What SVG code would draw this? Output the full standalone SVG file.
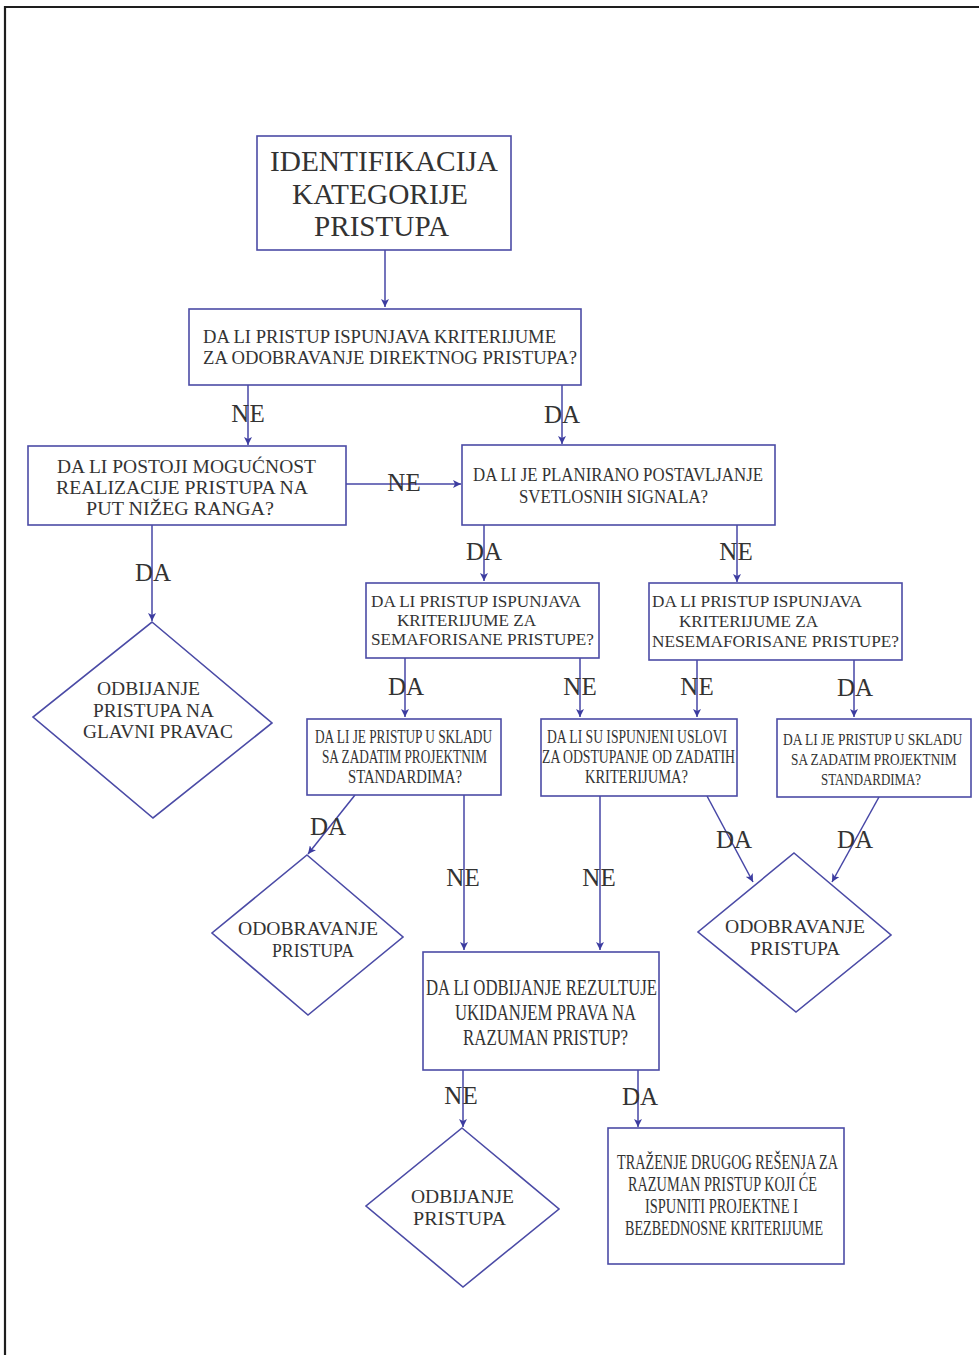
<svg xmlns="http://www.w3.org/2000/svg" width="979" height="1355" viewBox="0 0 979 1355">
  <style>
    .box { fill: #ffffff; stroke: #4b4ba6; stroke-width: 1.6; }
    .edge { fill: none; stroke: #4646a6; stroke-width: 1.5; }
    .t { font-family: "Liberation Serif", "Times New Roman", serif; fill: #333333; }
    .lbl { font-family: "Liberation Serif", "Times New Roman", serif; fill: #333333; font-size: 25px; text-anchor: middle; }
  </style>
  <defs>
    <marker id="arrow" markerWidth="9" markerHeight="8" refX="8" refY="4" orient="auto" markerUnits="userSpaceOnUse">
      <path d="M0,0 L8,4 L0,8 L2,4 z" fill="#3c3ca0"/>
    </marker>
  </defs>

  <rect width="979" height="1355" fill="#ffffff"/>
  <!-- page frame -->
  <path d="M5,1355 V7 H979" fill="none" stroke="#1e1e1e" stroke-width="2.2"/>

  <!-- connectors -->
  <g id="connectors">
    <path class="edge" d="M385,250 V307" marker-end="url(#arrow)"/>
    <path class="edge" d="M248,385 V445" marker-end="url(#arrow)"/>
    <path class="edge" d="M562,385 V444" marker-end="url(#arrow)"/>
    <path class="edge" d="M346,484 H461" marker-end="url(#arrow)"/>
    <path class="edge" d="M152,525 V621" marker-end="url(#arrow)"/>
    <path class="edge" d="M484,525 V581" marker-end="url(#arrow)"/>
    <path class="edge" d="M737,525 V582" marker-end="url(#arrow)"/>
    <path class="edge" d="M405,658 V717" marker-end="url(#arrow)"/>
    <path class="edge" d="M580,658 V717" marker-end="url(#arrow)"/>
    <path class="edge" d="M697,660 V717" marker-end="url(#arrow)"/>
    <path class="edge" d="M854,660 V717" marker-end="url(#arrow)"/>
    <path class="edge" d="M355,795 L308,854" marker-end="url(#arrow)"/>
    <path class="edge" d="M464,795 V950" marker-end="url(#arrow)"/>
    <path class="edge" d="M600,796 V950" marker-end="url(#arrow)"/>
    <path class="edge" d="M707,796 L753,882" marker-end="url(#arrow)"/>
    <path class="edge" d="M879,797 L832,882" marker-end="url(#arrow)"/>
    <path class="edge" d="M463,1070 V1127" marker-end="url(#arrow)"/>
    <path class="edge" d="M638,1070 V1127" marker-end="url(#arrow)"/>

    <text class="lbl" x="248" y="422">NE</text>
    <text class="lbl" x="562" y="423">DA</text>
    <text class="lbl" x="404" y="491">NE</text>
    <text class="lbl" x="153" y="581">DA</text>
    <text class="lbl" x="484" y="560">DA</text>
    <text class="lbl" x="736" y="560">NE</text>
    <text class="lbl" x="406" y="695">DA</text>
    <text class="lbl" x="580" y="695">NE</text>
    <text class="lbl" x="697" y="695">NE</text>
    <text class="lbl" x="855" y="696">DA</text>
    <text class="lbl" x="328" y="835">DA</text>
    <text class="lbl" x="463" y="886">NE</text>
    <text class="lbl" x="599" y="886">NE</text>
    <text class="lbl" x="734" y="848">DA</text>
    <text class="lbl" x="855" y="848">DA</text>
    <text class="lbl" x="461" y="1104">NE</text>
    <text class="lbl" x="640" y="1105">DA</text>
  </g>

  <!-- start: access category -->
  <g id="n-identifikacija">
    <rect class="box" x="257" y="136" width="254" height="114"/>
    <text class="t" font-size="30" x="270" y="171" textLength="228" lengthAdjust="spacingAndGlyphs">IDENTIFIKACIJA</text>
    <text class="t" font-size="30" x="292" y="204" textLength="176" lengthAdjust="spacingAndGlyphs">KATEGORIJE</text>
    <text class="t" font-size="30" x="314" y="236" textLength="135" lengthAdjust="spacingAndGlyphs">PRISTUPA</text>
  </g>

  <g id="n-direktni">
    <rect class="box" x="189" y="309" width="392" height="76"/>
    <text class="t" font-size="18" x="203" y="343" textLength="353" lengthAdjust="spacingAndGlyphs">DA LI PRISTUP ISPUNJAVA KRITERIJUME</text>
    <text class="t" font-size="18" x="203" y="364" textLength="374" lengthAdjust="spacingAndGlyphs">ZA ODOBRAVANJE DIREKTNOG PRISTUPA?</text>
  </g>

  <g id="n-nizi-rang">
    <rect class="box" x="28" y="446" width="318" height="79"/>
    <text class="t" font-size="19" x="57" y="473" textLength="259" lengthAdjust="spacingAndGlyphs">DA LI POSTOJI MOGUĆNOST</text>
    <text class="t" font-size="19" x="56" y="494" textLength="252" lengthAdjust="spacingAndGlyphs">REALIZACIJE PRISTUPA NA</text>
    <text class="t" font-size="19" x="86" y="515" textLength="188" lengthAdjust="spacingAndGlyphs">PUT NIŽEG RANGA?</text>
  </g>

  <g id="n-odbijanje-glavni">
    <polygon class="box" points="152,622 272,723 153,818 33,717"/>
    <text class="t" font-size="19.5" x="97" y="695" textLength="103" lengthAdjust="spacingAndGlyphs">ODBIJANJE</text>
    <text class="t" font-size="19.5" x="93" y="717" textLength="121" lengthAdjust="spacingAndGlyphs">PRISTUPA NA</text>
    <text class="t" font-size="19.5" x="83" y="738" textLength="150" lengthAdjust="spacingAndGlyphs">GLAVNI PRAVAC</text>
  </g>

  <g id="n-signali">
    <rect class="box" x="462" y="445" width="313" height="80"/>
    <text class="t" font-size="19" x="473" y="481" textLength="290" lengthAdjust="spacingAndGlyphs">DA LI JE PLANIRANO POSTAVLJANJE</text>
    <text class="t" font-size="19" x="519" y="503" textLength="189" lengthAdjust="spacingAndGlyphs">SVETLOSNIH SIGNALA?</text>
  </g>

  <g id="n-semaforisani">
    <rect class="box" x="366" y="583" width="233" height="75"/>
    <text class="t" font-size="17" x="371" y="607" textLength="210" lengthAdjust="spacingAndGlyphs">DA LI PRISTUP ISPUNJAVA</text>
    <text class="t" font-size="17" x="397" y="626" textLength="139" lengthAdjust="spacingAndGlyphs">KRITERIJUME ZA</text>
    <text class="t" font-size="17" x="371" y="645" textLength="223" lengthAdjust="spacingAndGlyphs">SEMAFORISANE PRISTUPE?</text>
  </g>

  <g id="n-nesemaforisani">
    <rect class="box" x="649" y="583" width="253" height="77"/>
    <text class="t" font-size="17" x="652" y="607" textLength="210" lengthAdjust="spacingAndGlyphs">DA LI PRISTUP ISPUNJAVA</text>
    <text class="t" font-size="17" x="679" y="627" textLength="139" lengthAdjust="spacingAndGlyphs">KRITERIJUME ZA</text>
    <text class="t" font-size="17" x="652" y="647" textLength="247" lengthAdjust="spacingAndGlyphs">NESEMAFORISANE PRISTUPE?</text>
  </g>

  <g id="n-standardi-levo">
    <rect class="box" x="307" y="719" width="194" height="76"/>
    <text class="t" font-size="18" x="315" y="743" textLength="177" lengthAdjust="spacingAndGlyphs">DA LI JE PRISTUP U SKLADU</text>
    <text class="t" font-size="18" x="322" y="763" textLength="165" lengthAdjust="spacingAndGlyphs">SA ZADATIM PROJEKTNIM</text>
    <text class="t" font-size="18" x="348" y="783" textLength="114" lengthAdjust="spacingAndGlyphs">STANDARDIMA?</text>
  </g>

  <g id="n-odstupanje">
    <rect class="box" x="541" y="719" width="196" height="77"/>
    <text class="t" font-size="18" x="547" y="743" textLength="180" lengthAdjust="spacingAndGlyphs">DA LI SU ISPUNJENI USLOVI</text>
    <text class="t" font-size="18" x="542" y="763" textLength="193" lengthAdjust="spacingAndGlyphs">ZA ODSTUPANJE OD ZADATIH</text>
    <text class="t" font-size="18" x="585" y="783" textLength="103" lengthAdjust="spacingAndGlyphs">KRITERIJUMA?</text>
  </g>

  <g id="n-standardi-desno">
    <rect class="box" x="777" y="719" width="194" height="78"/>
    <!-- narrow lettering: horizontal squeeze applied to the whole line -->
    <text class="t" font-size="17" transform="translate(783,745) scale(0.8,1)" x="0" y="0" textLength="224" lengthAdjust="spacingAndGlyphs">DA LI JE PRISTUP U SKLADU</text>
    <text class="t" font-size="17" transform="translate(791,765) scale(0.8,1)" x="0" y="0" textLength="207" lengthAdjust="spacingAndGlyphs">SA ZADATIM PROJEKTNIM</text>
    <text class="t" font-size="17" transform="translate(821,785) scale(0.8,1)" x="0" y="0" textLength="125" lengthAdjust="spacingAndGlyphs">STANDARDIMA?</text>
  </g>

  <g id="n-odobravanje-levo">
    <polygon class="box" points="307,855 403,937 308,1015 212,933"/>
    <text class="t" font-size="19" x="238" y="935" textLength="140" lengthAdjust="spacingAndGlyphs">ODOBRAVANJE</text>
    <text class="t" font-size="19" x="272" y="957" textLength="82" lengthAdjust="spacingAndGlyphs">PRISTUPA</text>
  </g>

  <g id="n-odobravanje-desno">
    <polygon class="box" points="794,853 891,935 796,1012 698,932"/>
    <text class="t" font-size="19" x="725" y="933" textLength="140" lengthAdjust="spacingAndGlyphs">ODOBRAVANJE</text>
    <text class="t" font-size="19" x="750" y="955" textLength="90" lengthAdjust="spacingAndGlyphs">PRISTUPA</text>
  </g>

  <g id="n-razuman-pristup">
    <rect class="box" x="423" y="952" width="236" height="118"/>
    <text class="t" font-size="23" x="426" y="995" textLength="231" lengthAdjust="spacingAndGlyphs">DA LI ODBIJANJE REZULTUJE</text>
    <text class="t" font-size="23" x="455" y="1020" textLength="181" lengthAdjust="spacingAndGlyphs">UKIDANJEM PRAVA NA</text>
    <text class="t" font-size="23" x="463" y="1045" textLength="165" lengthAdjust="spacingAndGlyphs">RAZUMAN PRISTUP?</text>
  </g>

  <g id="n-odbijanje">
    <polygon class="box" points="462,1128 559,1209 463,1287 366,1206"/>
    <text class="t" font-size="19.5" x="411" y="1203" textLength="103" lengthAdjust="spacingAndGlyphs">ODBIJANJE</text>
    <text class="t" font-size="19.5" x="413" y="1225" textLength="93" lengthAdjust="spacingAndGlyphs">PRISTUPA</text>
  </g>

  <g id="n-drugo-resenje">
    <rect class="box" x="608" y="1128" width="236" height="136"/>
    <text class="t" font-size="21" x="617" y="1169" textLength="221" lengthAdjust="spacingAndGlyphs">TRAŽENJE DRUGOG REŠENJA ZA</text>
    <text class="t" font-size="21" x="628" y="1191" textLength="189" lengthAdjust="spacingAndGlyphs">RAZUMAN PRISTUP KOJI ĆE</text>
    <text class="t" font-size="21" x="645" y="1213" textLength="153" lengthAdjust="spacingAndGlyphs">ISPUNITI PROJEKTNE I</text>
    <text class="t" font-size="21" x="625" y="1235" textLength="198" lengthAdjust="spacingAndGlyphs">BEZBEDNOSNE KRITERIJUME</text>
  </g>
</svg>
